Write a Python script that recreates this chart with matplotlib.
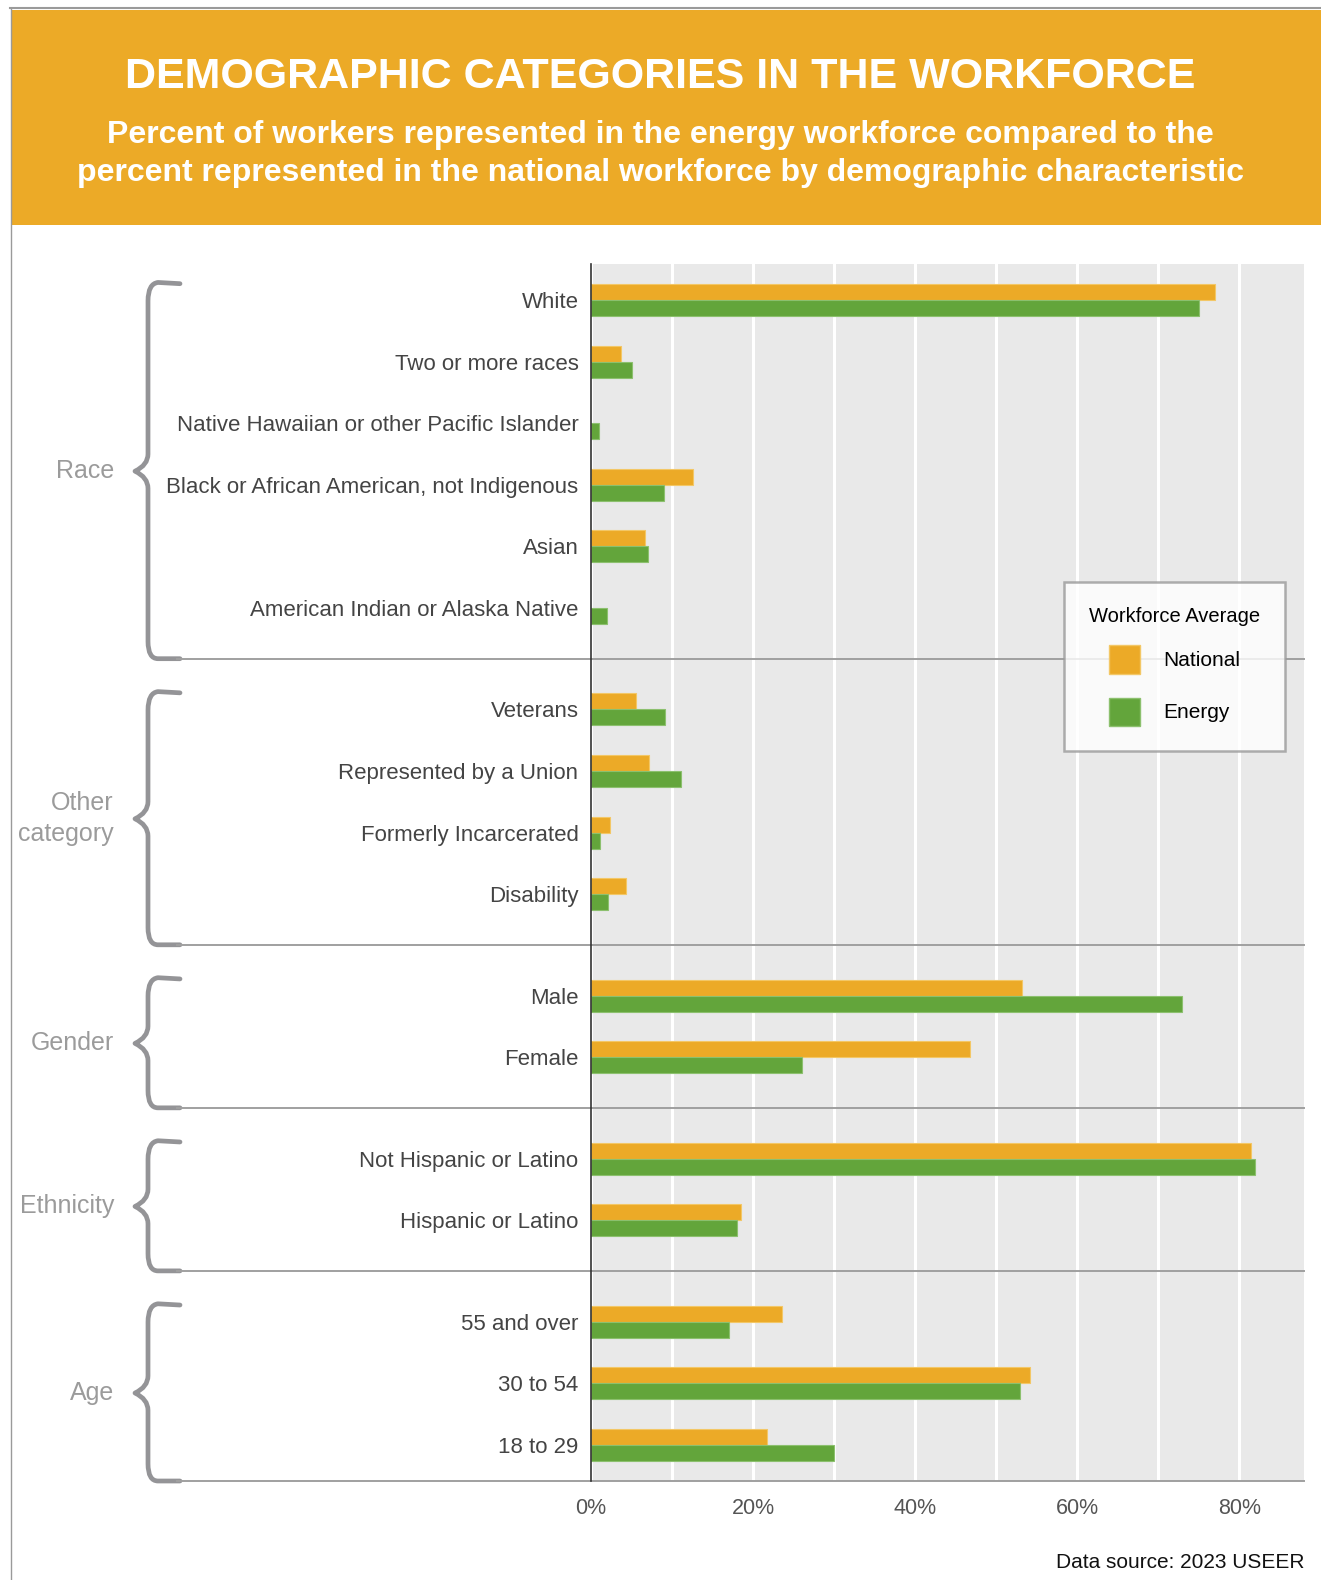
import numpy as np
import matplotlib
matplotlib.use("Agg")
import matplotlib.pyplot as plt
from matplotlib.patches import Rectangle, Patch
from matplotlib.path import Path
from matplotlib.patches import PathPatch
from matplotlib.transforms import blended_transform_factory

# data (percent)
group_names = ["Race", "Other\ncategory", "Gender", "Ethnicity", "Age"]
group_sizes = [6, 4, 2, 2, 3]
categories = [
    "White", "Two or more races", "Native Hawaiian or other Pacific Islander",
    "Black or African American, not Indigenous", "Asian", "American Indian or Alaska Native",
    "Veterans", "Represented by a Union", "Formerly Incarcerated", "Disability",
    "Male", "Female",
    "Not Hispanic or Latino", "Hispanic or Latino",
    "55 and over", "30 to 54", "18 to 29",
]
national = [77.0, 3.7, np.nan, 12.6, 6.7, np.nan,
            5.5, 7.1, 2.4, 4.3,
            53.2, 46.8,
            81.5, 18.5,
            23.6, 54.2, 21.7]
energy = [75.1, 5.1, 1.0, 9.0, 7.0, 2.0,
          9.1, 11.1, 1.1, 2.1,
          73.0, 26.0,
          82.0, 18.0,
          17.0, 53.0, 30.0]
x_ticks = [0, 20, 40, 60, 80]

ORANGE = "#ECAA27"
GREEN = "#63A53B"
GREY = "#949497"
NARROW = ["Liberation Sans Narrow", "Liberation Sans", "DejaVu Sans"]
plt.rcParams["font.family"] = NARROW

fig = plt.figure(figsize=(13.21, 15.80), dpi=100)
W, H = 1321, 1580

# header band and frame
fig.add_artist(Rectangle((0.12, (H - 225) / 100), 13.21, 2.15, transform=fig.dpi_scale_trans,
                         facecolor=ORANGE, edgecolor="none"))
fig.add_artist(plt.Line2D([0.10, 13.21], [(H - 8) / 100] * 2, transform=fig.dpi_scale_trans,
                          color="#9A9A9A", lw=1.5))
fig.add_artist(plt.Line2D([0.11, 0.11], [0, (H - 8) / 100], transform=fig.dpi_scale_trans,
                          color="#9A9A9A", lw=1.0))
fig.text(0.5, 1 - 77 / H, "DEMOGRAPHIC CATEGORIES IN THE WORKFORCE", ha="center", va="center",
         color="white", fontsize=31, fontweight="bold", family=["Liberation Sans", "DejaVu Sans"])
fig.text(0.5, 1 - 154 / H,
         "Percent of workers represented in the energy workforce compared to the\n"
         "percent represented in the national workforce by demographic characteristic",
         ha="center", va="center", color="white", fontsize=23, fontweight="bold",
         linespacing=1.38, family=["Liberation Sans", "DejaVu Sans"])

# y positions: one unit per row, extra gap between groups
GAP = 0.65
pos = []
y = 0.0
for size in group_sizes:
    for i in range(size):
        pos.append(y)
        y += 1
    y += GAP
pos = np.array(pos)

ax = fig.add_axes([591 / W, (H - 1481) / H, 713 / W, 1217 / H])
ax.set_facecolor("#E9E9E9")
ax.set_xlim(0, 88)
ax.set_ylim(pos[-1] + 0.59, pos[0] - 0.59)
ax.set_axisbelow(True)
ax.set_xticks(x_ticks)
ax.set_xticks(np.arange(10, 90, 20), minor=True)
ax.grid(axis="x", which="both", color="white", lw=2.2)
ax.set_xticklabels([f"{t}%" for t in x_ticks])
ax.tick_params(axis="x", which="both", length=0, pad=12, labelsize=15.5, labelcolor="#555555")
ax.set_yticks(pos)
ax.set_yticklabels(categories)
ax.tick_params(axis="y", length=0, pad=9, labelsize=16, labelcolor="#444444")
for s in ["top", "right", "bottom"]:
    ax.spines[s].set_visible(False)
ax.spines["left"].set_color("#333333")
ax.spines["left"].set_linewidth(1.2)

bh = 0.26
b1 = ax.barh(pos - bh / 2, national, height=bh, color=ORANGE, edgecolor="#F3C766", lw=0.8,
             label="National")
b2 = ax.barh(pos + bh / 2, energy, height=bh, color=GREEN, edgecolor="#8CC06E", lw=0.8,
             label="Energy")

# braces, separators and group labels (x in figure inches, y in data)
tr = blended_transform_factory(fig.dpi_scale_trans, ax.transData)
starts = np.cumsum([0] + group_sizes[:-1])
ends = np.cumsum(group_sizes) - 1
ybot = pos[-1] + 0.59
for gi, name in enumerate(group_names):
    top = pos[starts[gi]] - 0.27
    if gi < len(group_names) - 1:
        bot = (pos[ends[gi]] + pos[ends[gi] + 1]) / 2
    else:
        bot = ybot
    mid = (top + bot) / 2
    xv, xe, xt = 1.48, 1.80, 1.35
    r = 0.28
    verts = [(xe, top), (1.58, top - 0.02), (xv, top), (xv, top + r),
             (xv, mid - r), (xv, mid - 0.1), (xt, mid),
             (xv, mid + 0.1), (xv, mid + r),
             (xv, bot - r), (xv, bot), (1.58, bot), (xe, bot)]
    codes = [Path.MOVETO, Path.LINETO, Path.CURVE3, Path.CURVE3,
             Path.LINETO, Path.CURVE3, Path.CURVE3,
             Path.CURVE3, Path.CURVE3,
             Path.LINETO, Path.CURVE3, Path.CURVE3, Path.LINETO]
    ax.add_patch(PathPatch(Path(verts, codes), transform=tr, facecolor="none",
                           edgecolor=GREY, lw=3.4, capstyle="round", joinstyle="round",
                           clip_on=False))
    ax.text(1.14, mid, name, transform=tr, ha="right", va="center", fontsize=18,
            color="#9B9B9B", linespacing=1.35)
    ax.plot([1.77, 13.04], [bot, bot], transform=tr, color="#A0A0A0", lw=1.4, clip_on=False,
            zorder=2.5)

leg = ax.legend(handles=[Patch(facecolor=ORANGE, edgecolor="#F3C766"),
                         Patch(facecolor=GREEN, edgecolor="#8CC06E")],
                labels=["National", "Energy"], title="Workforce Average",
                loc="upper left", bbox_to_anchor=((1064 - 591) / 713, 1 - (582 - 264) / 1217),
                fontsize=15, title_fontsize=14.5, frameon=True, fancybox=False,
                handlelength=1.5, handleheight=1.7, handletextpad=1.1, labelspacing=1.15,
                borderpad=1.2, borderaxespad=0)
leg.get_frame().set_edgecolor("#9A9A9A")
leg.get_frame().set_linewidth(1.8)
leg._legend_box.align = "center"
leg._legend_box.sep = 14
leg.set_zorder(5)

fig.text(1305 / W, 1 - 1563 / H, "Data source: 2023 USEER", ha="right", va="center",
         fontsize=15, color="#111111")

fig.savefig("out.png", dpi=100)
